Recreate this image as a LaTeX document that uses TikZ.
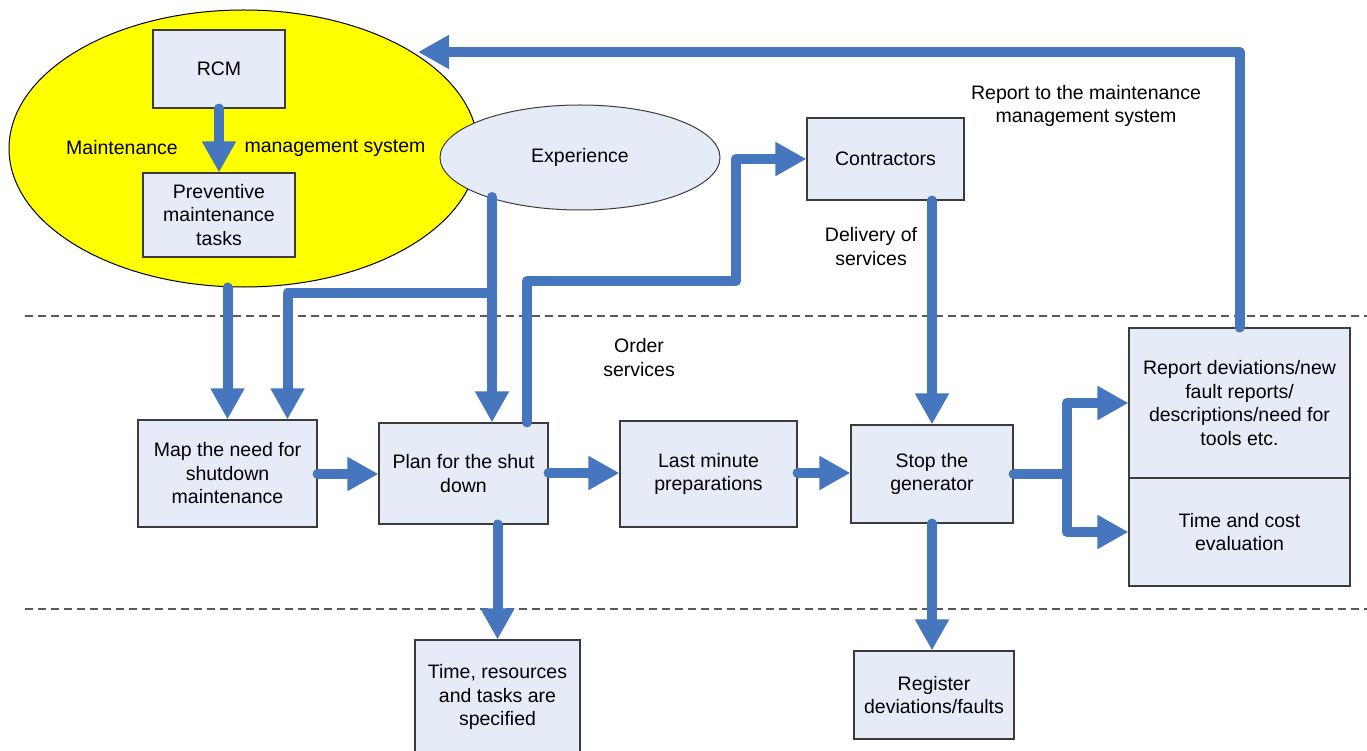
\documentclass[tikz,border=0pt]{standalone}
\usepackage{fontspec}
\setmainfont{Liberation Sans}
\usetikzlibrary{arrows.meta,shapes.geometric}
\definecolor{flowblue}{RGB}{70,118,190}
\definecolor{boxfill}{RGB}{229,235,247}
\definecolor{boxline}{RGB}{60,60,60}
\definecolor{mmsyellow}{RGB}{255,255,0}
\begin{document}
\begin{tikzpicture}[x=1pt,y=-1pt,
  every node/.style={font=\fontsize{19.5}{23.5}\selectfont, align=center},
  box/.style={draw=boxline, line width=1.1pt, fill=boxfill, inner sep=0pt},
  flow/.style={draw=flowblue, line width=10pt, line cap=round, line join=round,
    -{Triangle[width=32pt,length=31pt]}},
  lane/.style={draw=black!65, line width=1.1pt, dash pattern=on 8pt off 5pt},
  note/.style={inner sep=0pt}]

\useasboundingbox (0,0) rectangle (1367,751);
\clip (0,0) rectangle (1367,751);

% lane separators
\draw[lane] (25,316) -- (1367,316);
\draw[lane] (25,609) -- (1367,609);

% maintenance management system
\node[ellipse, draw=black, line width=1pt, fill=mmsyellow, inner sep=0pt,
      minimum width=469pt, minimum height=277pt] (mms) at (243.5,148.5) {};
\node[note] (mmsl) at (122,148) {Maintenance};
\node[note] (mmsr) at (335,148) {management system};
\node[box, minimum width=132pt, minimum height=78pt] (rcm) at (219,69) {RCM};
\node[box, minimum width=152pt, minimum height=84pt] (pmt) at (219,215)
  {Preventive\\maintenance\\tasks};

% experience
\node[ellipse, draw=boxline, line width=1pt, fill=boxfill, inner sep=0pt,
      minimum width=280pt, minimum height=105pt] (exp) at (580,157.5) {Experience};

% process boxes
\node[box, minimum width=157pt, minimum height=82pt] (con) at (885.5,159) {Contractors};
\node[box, minimum width=179pt, minimum height=107pt] (map) at (227.5,473.5)
  {Map the need for\\shutdown\\maintenance};
\node[box, minimum width=169pt, minimum height=101pt] (plan) at (463.5,473.5)
  {Plan for the shut\\down};
\node[box, minimum width=177pt, minimum height=106pt] (last) at (708.5,474)
  {Last minute\\preparations};
\node[box, minimum width=162pt, minimum height=98pt] (stop) at (932,474)
  {Stop the\\generator};
\node[box, minimum width=221pt, minimum height=150pt] (rep) at (1239.5,403)
  {Report deviations/new\\fault reports/\\descriptions/need for\\tools etc.};
\node[box, minimum width=221pt, minimum height=108pt] (tce) at (1239.5,532)
  {Time and cost\\evaluation};
\node[box, minimum width=165pt, minimum height=114pt] (trs) at (497.5,697)
  {Time, resources\\and tasks are\\specified};
\node[box, minimum width=160pt, minimum height=88pt] (reg) at (934,695)
  {Register\\deviations/faults};

% free labels
\node[note] (lblrep) at (1086,106) {Report to the maintenance\\management system};
\node[note] (lblord) at (639,357.5) {Order\\services};
\node[note] (lbldel) at (871,246.5) {Delivery of\\services};

% connector ends
\coordinate (expout) at (492,197);
\coordinate (split) at (492,293);
\coordinate (fb) at (418,52);

% connectors
\draw[flow] (rcm.south) -- (pmt.north);
\draw[flow] (mms.south -| map.north) -- (map.north);
\draw[flow] (expout) -- (plan.north -| expout);
\draw[flow] (split) -| ([xshift=60pt]map.north);
\draw[flow] ([xshift=63.5pt]plan.north) |- (736,281) |- (con.west);
\draw[flow] (con.south -| stop.north) -- (stop.north);
\draw[flow] (map.east |- 0,474) -- (plan.west |- 0,474);
\draw[flow] (plan.east |- 0,473) -- (last.west |- 0,473);
\draw[flow] (last.east |- 0,473) -- (stop.west |- 0,473);
\draw[flow] (stop.east) -- (1067,474) |- (rep.west);
\draw[flow] (1067,474) |- (tce.west);
\draw[flow] (plan.south -| trs.north) -- (trs.north);
\draw[flow] (stop.south) -- (stop.south |- reg.north);
\draw[flow] (rep.north) |- (fb);
\end{tikzpicture}
\end{document}
